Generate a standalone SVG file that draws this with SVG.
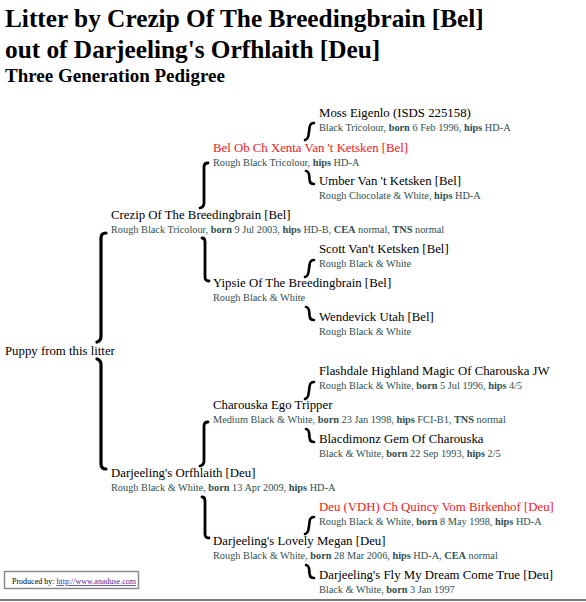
<svg xmlns="http://www.w3.org/2000/svg" width="586" height="602" viewBox="0 0 586 602">
<style>
text{font-family:"Liberation Serif","Times New Roman",serif}
.t1{font-size:25.3px;font-weight:bold;fill:#000}
.t2{font-size:19px;font-weight:bold;fill:#000}
.n{font-size:12.8px;fill:#000}
.r{fill:#f01818}
.d{font-size:10.3px;fill:#2f4f4f}
.b{font-weight:bold}
.br{fill:none;stroke:#000;stroke-linecap:round}
.big{stroke-width:3.2}
.mid{stroke-width:2.8}
.sm{stroke-width:2.6}
.pr{font-size:8px;fill:#000}
.lk{fill:#4b2a9b;text-decoration:underline}
</style>
<rect width="586" height="602" fill="#fff"/>
<g id="title">
<text class="t1" x="5" y="27">Litter by Crezip Of The Breedingbrain [Bel]</text>
<text class="t1" x="5" y="58">out of Darjeeling's Orfhlaith [Deu]</text>
<text class="t2" x="5" y="82">Three Generation Pedigree</text>
</g>
<g id="connectors">
<path class="br big" d="M106,233 Q101,233 101,238 L101,336 Q101,341 97,342"/>
<path class="br big" d="M97,359 Q101,360 101,365 L101,464 Q101,469 106,469"/>
<path class="br mid" d="M208,163 Q204,163 204,167 L204,203 Q204,207 200,208"/>
<path class="br mid" d="M202,238 Q205,238 205,242 L205,277 Q205,281 209,281"/>
<path class="br mid" d="M208,422 Q204,422 204,426 L204,461 Q204,465 200,466"/>
<path class="br mid" d="M202,497 Q205,497 205,501 L205,534 Q205,538 209,538"/>
<path class="br sm" d="M314,123 Q310,123 309.6,127.5 L308.6,134.5 Q308.2,139 305,140"/>
<path class="br sm" d="M306,171 Q309,171.5 309.2,176 L309.6,180 Q310,184 314,184"/>
<path class="br sm" d="M314,260 Q310,260 309.6,264.5 L308.6,271.5 Q308.2,276 305,277"/>
<path class="br sm" d="M306,307 Q309,307.5 309.2,312 L309.6,316 Q310,320 314,320"/>
<path class="br sm" d="M314,382 Q310,382 309.6,386.5 L308.6,393.5 Q308.2,398 305,399"/>
<path class="br sm" d="M306,429 Q309,429.5 309.2,434 L309.6,438 Q310,442 314,442"/>
<path class="br sm" d="M314,517 Q310,517 309.6,521.5 L308.6,528.5 Q308.2,533 305,534"/>
<path class="br sm" d="M306,565 Q309,565.5 309.2,570 L309.6,574 Q310,578 314,578"/>
</g>
<g id="puppy"><text class="n" x="5" y="355">Puppy from this litter</text></g>
<g id="sire">
<text class="n" x="111" y="219">Crezip Of The Breedingbrain [Bel]</text>
<text class="d" x="111" y="233">Rough Black Tricolour, <tspan class="b">born</tspan> 9 Jul 2003, <tspan class="b">hips</tspan> HD-B, <tspan class="b">CEA</tspan> normal, <tspan class="b">TNS</tspan> normal</text>
</g>
<g id="dam">
<text class="n" x="111" y="477">Darjeeling's Orfhlaith [Deu]</text>
<text class="d" x="111" y="491">Rough Black &amp; White, <tspan class="b">born</tspan> 13 Apr 2009, <tspan class="b">hips</tspan> HD-A</text>
</g>
<g id="ss">
<text class="n r" x="213" y="152">Bel Ob Ch Xenta Van 't Ketsken [Bel]</text>
<text class="d" x="213" y="166">Rough Black Tricolour, <tspan class="b">hips</tspan> HD-A</text>
</g>
<g id="sd">
<text class="n" x="213" y="287">Yipsie Of The Breedingbrain [Bel]</text>
<text class="d" x="213" y="301">Rough Black &amp; White</text>
</g>
<g id="ds">
<text class="n" x="213" y="409">Charouska Ego Tripper</text>
<text class="d" x="213" y="423">Medium Black &amp; White, <tspan class="b">born</tspan> 23 Jan 1998, <tspan class="b">hips</tspan> FCI-B1, <tspan class="b">TNS</tspan> normal</text>
</g>
<g id="dd">
<text class="n" x="213" y="545">Darjeeling's Lovely Megan [Deu]</text>
<text class="d" x="213" y="559">Rough Black &amp; White, <tspan class="b">born</tspan> 28 Mar 2006, <tspan class="b">hips</tspan> HD-A, <tspan class="b">CEA</tspan> normal</text>
</g>
<g id="sss">
<text class="n" x="319" y="117">Moss Eigenlo (ISDS 225158)</text>
<text class="d" x="319" y="131">Black Tricolour, <tspan class="b">born</tspan> 6 Feb 1996, <tspan class="b">hips</tspan> HD-A</text>
</g>
<g id="ssd">
<text class="n" x="319" y="185">Umber Van 't Ketsken [Bel]</text>
<text class="d" x="319" y="199">Rough Chocolate &amp; White, <tspan class="b">hips</tspan> HD-A</text>
</g>
<g id="sds">
<text class="n" x="319" y="253">Scott Van't Ketsken [Bel]</text>
<text class="d" x="319" y="267">Rough Black &amp; White</text>
</g>
<g id="sdd">
<text class="n" x="319" y="321">Wendevick Utah [Bel]</text>
<text class="d" x="319" y="335">Rough Black &amp; White</text>
</g>
<g id="dss">
<text class="n" x="319" y="375">Flashdale Highland Magic Of Charouska JW</text>
<text class="d" x="319" y="389">Rough Black &amp; White, <tspan class="b">born</tspan> 5 Jul 1996, <tspan class="b">hips</tspan> 4/5</text>
</g>
<g id="dsd">
<text class="n" x="319" y="443">Blacdimonz Gem Of Charouska</text>
<text class="d" x="319" y="457">Black &amp; White, <tspan class="b">born</tspan> 22 Sep 1993, <tspan class="b">hips</tspan> 2/5</text>
</g>
<g id="dds">
<text class="n r" x="319" y="511">Deu (VDH) Ch Quincy Vom Birkenhof [Deu]</text>
<text class="d" x="319" y="525">Rough Black &amp; White, <tspan class="b">born</tspan> 8 May 1998, <tspan class="b">hips</tspan> HD-A</text>
</g>
<g id="ddd">
<text class="n" x="319" y="579">Darjeeling's Fly My Dream Come True [Deu]</text>
<text class="d" x="319" y="593">Black &amp; White, <tspan class="b">born</tspan> 3 Jan 1997</text>
</g>
<g id="footer">
<rect x="4.5" y="571.5" width="134" height="17" fill="#fff" stroke="#8a8a8a" stroke-width="1.5"/>
<text class="pr" x="12" y="584">Produced by: <tspan class="lk">http://www.anaduse.com</tspan></text>
<line x1="0" y1="600" x2="586" y2="600" stroke="#777" stroke-width="2"/>
</g>
</svg>
